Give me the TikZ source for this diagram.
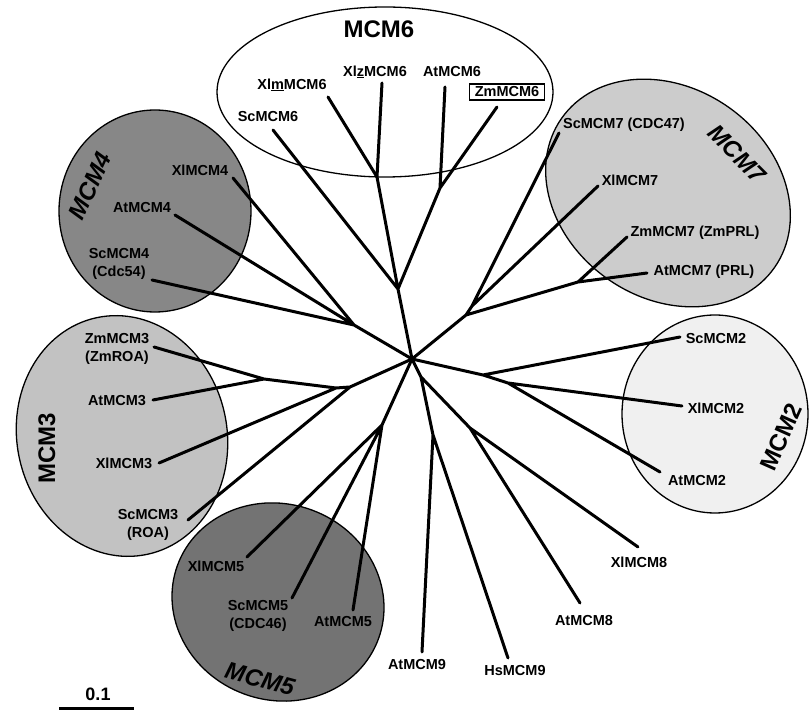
\documentclass[tikz,border=0pt]{standalone}
\usepackage{fontspec}
\setmainfont{Liberation Sans}
\definecolor{cfour}{gray}{0.53}
\definecolor{cfive}{gray}{0.45}
\definecolor{cthree}{gray}{0.76}
\definecolor{cseven}{gray}{0.80}
\definecolor{ctwo}{gray}{0.94}
\begin{document}
\begin{tikzpicture}[x=1pt,y=-1pt,
  br/.style={line width=3pt, line cap=round},
  lab/.style={font=\fontsize{14.5}{18}\selectfont\bfseries, inner sep=0pt, align=center},
  big/.style={font=\fontsize{24}{28}\selectfont\bfseries, inner sep=0pt},
  bigit/.style={font=\fontsize{24}{28}\selectfont\bfseries\itshape, inner sep=0pt},
  clade/.style={draw=black, line width=1.3pt}]
\useasboundingbox (0,0) rectangle (812,711);

% clade ellipses
\draw[clade, fill=white] (385,92) ellipse [x radius=168, y radius=85];
\draw[clade, fill=cfour] (155,211) ellipse [x radius=96, y radius=101];
\draw[clade, fill=cseven, rotate around={-35:(668,193)}] (668,193) ellipse [x radius=130, y radius=105];
\draw[clade, fill=ctwo] (715,414) ellipse [x radius=93, y radius=99];
\draw[clade, fill=cthree, rotate around={12:(122,436)}] (122,436) ellipse [x radius=105, y radius=121];
\draw[clade, fill=cfive, rotate around={-20:(278,602)}] (278,602) ellipse [x radius=107, y radius=98];

% tree coordinates
\coordinate (r) at (412,359);
\coordinate (n6) at (398,289);
\coordinate (n6a) at (377,177);
\coordinate (n6b) at (440,188);
\coordinate (t6sc) at (273,130);
\coordinate (t6xm) at (328,97);
\coordinate (t6xz) at (382,83);
\coordinate (t6at) at (445,87);
\coordinate (t6zm) at (497,107);
\coordinate (n4) at (354,325);
\coordinate (t4xl) at (233,178);
\coordinate (t4at) at (175,215);
\coordinate (t4sc) at (152,280);
\coordinate (n7) at (466,315);
\coordinate (n7a) at (472,306);
\coordinate (n7b) at (578,282);
\coordinate (t7sc) at (559,133);
\coordinate (t7xl) at (598,186);
\coordinate (t7zm) at (627,237);
\coordinate (t7at) at (647,273);
\coordinate (n2) at (483,375);
\coordinate (n2a) at (508,383);
\coordinate (t2sc) at (680,337);
\coordinate (t2xl) at (682,406);
\coordinate (t2at) at (660,472);
\coordinate (n89) at (421,377);
\coordinate (n9) at (433,435);
\coordinate (n8) at (470,428);
\coordinate (t9at) at (422,652);
\coordinate (t9hs) at (508,658);
\coordinate (t8xl) at (638,547);
\coordinate (t8at) at (580,603);
\coordinate (n3) at (350,387);
\coordinate (n3a) at (336,388);
\coordinate (n3b) at (264,379);
\coordinate (t3zm) at (154,347);
\coordinate (t3at) at (153,400);
\coordinate (t3xl) at (159,463);
\coordinate (t3sc) at (188,520);
\coordinate (n5) at (382,425);
\coordinate (t5xl) at (247,557);
\coordinate (t5sc) at (292,598);
\coordinate (t5at) at (353,610);

% branches
\draw[br] (r) -- (n6) (n6) -- (t6sc) (n6) -- (n6a) (n6a) -- (t6xm) (n6a) -- (t6xz)
  (n6) -- (n6b) (n6b) -- (t6at) (n6b) -- (t6zm);
\draw[br] (r) -- (n4) (n4) -- (t4xl) (n4) -- (t4at) (n4) -- (t4sc);
\draw[br] (r) -- (n7) (n7) -- (n7a) (n7a) -- (t7sc) (n7a) -- (t7xl)
  (n7) -- (n7b) (n7b) -- (t7zm) (n7b) -- (t7at);
\draw[br] (r) -- (n2) (n2) -- (t2sc) (n2) -- (n2a) (n2a) -- (t2xl) (n2a) -- (t2at);
\draw[br] (r) -- (n89) (n89) -- (n9) (n9) -- (t9at) (n9) -- (t9hs)
  (n89) -- (n8) (n8) -- (t8xl) (n8) -- (t8at);
\draw[br] (r) -- (n3) (n3) -- (n3a) (n3a) -- (n3b) (n3a) -- (t3xl) (n3) -- (t3sc)
  (n3b) -- (t3zm) (n3b) -- (t3at);
\draw[br] (r) -- (n5) (n5) -- (t5xl) (n5) -- (t5sc) (n5) -- (t5at);

% clade titles
\node[big] (h6) at (379,29) {MCM6};
\node[bigit, rotate=65] (h4) at (90,186) {MCM4};
\node[bigit, rotate=-45] (h7) at (737,154) {MCM7};
\node[big, rotate=66] (h2) at (781,437) {MCM2};
\node[big, rotate=90] (h3) at (47,448) {MCM3};
\node[bigit, rotate=-15] (h5) at (260,679) {MCM5};

% leaf labels
\node[lab] (l6sc) at (268,117) {ScMCM6};
\node[lab] (l6xm) at (292,85) {Xl\underline{m}MCM6};
\node[lab] (l6xz) at (375,72) {Xl\underline{z}MCM6};
\node[lab] (l6at) at (452,72) {AtMCM6};
\node[lab, draw, line width=1.3pt, fill=white, inner xsep=5pt, inner ysep=3pt] (l6zm) at (507,92) {ZmMCM6};
\node[lab] (l4xl) at (200,170) {XlMCM4};
\node[lab] (l4at) at (142,208) {AtMCM4};
\node[lab] (l4sc) at (119,264) {ScMCM4\\(Cdc54)};
\node[lab] (l7sc) at (624,125) {ScMCM7 (CDC47)};
\node[lab] (l7xl) at (630,180) {XlMCM7};
\node[lab] (l7zm) at (695,233) {ZmMCM7 (ZmPRL)};
\node[lab] (l7at) at (704,272) {AtMCM7 (PRL)};
\node[lab] (l2sc) at (716,339) {ScMCM2};
\node[lab] (l2xl) at (716,408) {XlMCM2};
\node[lab] (l2at) at (697,481) {AtMCM2};
\node[lab] (l8xl) at (639,562) {XlMCM8};
\node[lab] (l8at) at (584,621) {AtMCM8};
\node[lab] (l9at) at (417,665) {AtMCM9};
\node[lab] (l9hs) at (515,671) {HsMCM9};
\node[lab] (l3zm) at (117,349) {ZmMCM3\\(ZmROA)};
\node[lab] (l3at) at (117,401) {AtMCM3};
\node[lab] (l3xl) at (124,463) {XlMCM3};
\node[lab] (l3sc) at (148,525) {ScMCM3\\(ROA)};
\node[lab] (l5xl) at (216,566) {XlMCM5};
\node[lab] (l5sc) at (258,616) {ScMCM5\\(CDC46)};
\node[lab] (l5at) at (343,622) {AtMCM5};

% scale bar
\node[font=\fontsize{18}{20}\selectfont\bfseries, inner sep=0pt] (sclab) at (98,694) {0.1};
\coordinate (sb1) at (59,708);
\coordinate (sb2) at (134,708);
\draw[line width=3pt] (sb1) -- (sb2);
\end{tikzpicture}
\end{document}
